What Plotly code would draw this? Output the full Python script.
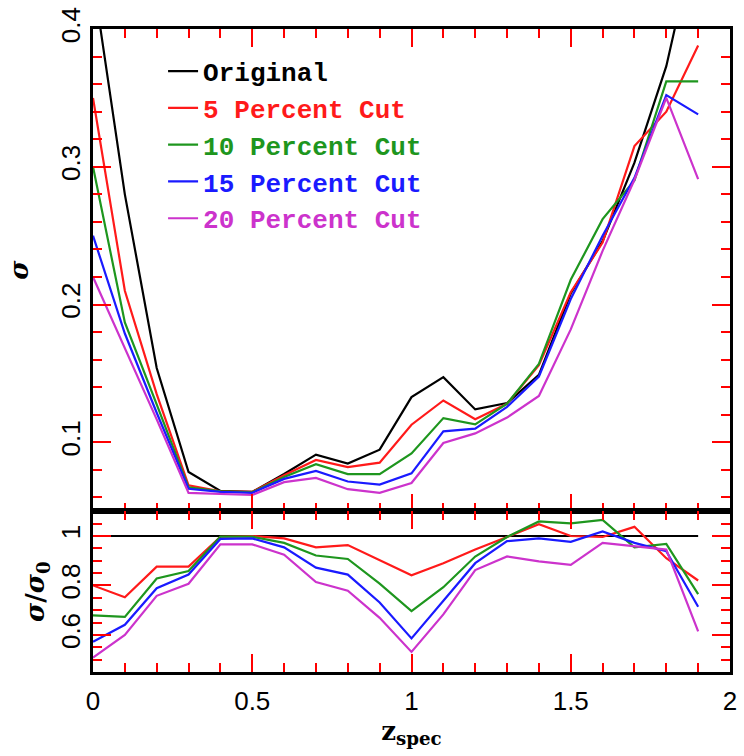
import plotly.graph_objects as go

# Redshift bins
z_spec = [0.0, 0.1, 0.2, 0.3, 0.4, 0.5, 0.6, 0.7, 0.8, 0.9,
          1.0, 1.1, 1.2, 1.3, 1.4, 1.5, 1.6, 1.7, 1.8, 1.9]

# Scatter sigma per bin for each sample
sigma_original = [0.437, 0.280, 0.154, 0.0785, 0.0648, 0.064, 0.077, 0.0911, 0.0846, 0.0947,
                  0.1328, 0.1473, 0.1239, 0.1285, 0.149, 0.208, 0.246, 0.303, 0.373, 0.475]
sigma_cut5 = [0.350, 0.210, 0.135, 0.0688, 0.0645, 0.064, 0.0762, 0.0872, 0.0820, 0.0853,
              0.1128, 0.1304, 0.1168, 0.128, 0.156, 0.209, 0.245, 0.315, 0.340, 0.388]
sigma_cut10 = [0.300, 0.187, 0.1275, 0.0673, 0.0645, 0.0638, 0.0748, 0.0842, 0.0770, 0.0770,
               0.0920, 0.1176, 0.1130, 0.128, 0.157, 0.218, 0.262, 0.290, 0.362, 0.362]
sigma_cut15 = [0.250, 0.179, 0.1215, 0.0663, 0.064, 0.0634, 0.0735, 0.0793, 0.0716, 0.0694,
               0.0775, 0.1080, 0.1100, 0.1258, 0.1478, 0.204, 0.250, 0.292, 0.352, 0.338]
sigma_cut20 = [0.220, 0.168, 0.1167, 0.0633, 0.0625, 0.0618, 0.0711, 0.0742, 0.0660, 0.0634,
               0.0705, 0.0995, 0.1065, 0.118, 0.1337, 0.182, 0.239, 0.2906, 0.350, 0.291]

# Ratio sigma / sigma_0 per bin
ratio_original = [1.0] * 20
ratio_cut5 = [0.80, 0.752, 0.876, 0.876, 0.997, 1.0, 0.99, 0.954, 0.963, 0.903,
              0.841, 0.89, 0.945, 0.996, 1.048, 1.0, 0.996, 1.037, 0.91, 0.82]
ratio_cut10 = [0.679, 0.673, 0.828, 0.858, 0.997, 0.997, 0.972, 0.921, 0.907, 0.807,
               0.696, 0.793, 0.917, 0.996, 1.059, 1.051, 1.065, 0.954, 0.968, 0.765]
ratio_cut15 = [0.572, 0.641, 0.789, 0.844, 0.988, 0.99, 0.954, 0.872, 0.844, 0.731,
               0.586, 0.738, 0.89, 0.979, 0.99, 0.976, 1.018, 0.972, 0.938, 0.714]
ratio_cut20 = [0.508, 0.60, 0.758, 0.807, 0.966, 0.966, 0.924, 0.814, 0.779, 0.669,
               0.531, 0.683, 0.862, 0.917, 0.897, 0.883, 0.972, 0.959, 0.945, 0.614]

labels = ["Original", "5 Percent Cut", "10 Percent Cut", "15 Percent Cut", "20 Percent Cut"]
colors = ["#000000", "#ff1a1a", "#1e961e", "#1a1aff", "#cc33cc"]
sigmas = [sigma_original, sigma_cut5, sigma_cut10, sigma_cut15, sigma_cut20]
ratios = [ratio_original, ratio_cut5, ratio_cut10, ratio_cut15, ratio_cut20]

# Axis ranges
z_range = [0.0, 2.0]
sigma_range = [0.05, 0.4]
ratio_range = [0.45, 1.1]

TICK_COLOR = "red"

fig = go.Figure()

for name, col, s in zip(labels, colors, sigmas):
    fig.add_trace(go.Scatter(
        x=z_spec, y=s, mode="lines", xaxis="x", yaxis="y",
        line=dict(color=col, width=2.2),
        name=f"<span style='color:{col}'>{name}</span>",
        showlegend=True,
    ))

for name, col, r in zip(labels, colors, ratios):
    fig.add_trace(go.Scatter(
        x=z_spec, y=r, mode="lines", xaxis="x2", yaxis="y2",
        line=dict(color=col, width=2.2),
        showlegend=False,
    ))

tick_font = dict(family="Liberation Sans", size=26, color="black")
title_font = dict(family="DejaVu Serif", size=26, color="black", weight="bold")


def frame(minor_dtick):
    return dict(
        showline=True, linecolor="black", linewidth=2.5, mirror="ticks",
        ticks="inside", ticklen=18, tickwidth=2, tickcolor=TICK_COLOR,
        showgrid=False, zeroline=False, tickfont=tick_font,
        minor=dict(dtick=minor_dtick, ticklen=9, tickwidth=2,
                   ticks="inside", tickcolor=TICK_COLOR),
    )


fig.update_layout(
    width=744, height=756,
    margin=dict(l=93, r=7, t=28, b=84),
    paper_bgcolor="white", plot_bgcolor="white",
    xaxis=dict(frame(0.1), domain=[0, 1], range=z_range, anchor="y",
               dtick=0.5, tick0=0, showticklabels=False),
    yaxis=dict(frame(0.02), domain=[0.25, 1], range=sigma_range, anchor="x",
               dtick=0.1, tick0=0, tickangle=-90,
               title=dict(text="<i>σ</i>", font=title_font, standoff=20)),
    xaxis2=dict(frame(0.1), domain=[0, 1], range=z_range, anchor="y2",
                dtick=0.5, tick0=0, ticklabelstandoff=4,
                title=dict(text="z<sub>spec</sub>", font=title_font, standoff=0)),
    yaxis2=dict(frame(0.05), domain=[0, 0.25], range=ratio_range, anchor="x2",
                dtick=0.2, tick0=0, tickangle=-90,
                title=dict(text="<i>σ</i>/<i>σ</i><sub>0</sub>", font=title_font, standoff=4)),
    legend=dict(
        x=0.11, y=0.971, xanchor="left", yanchor="top",
        bgcolor="rgba(0,0,0,0)", borderwidth=0,
        font=dict(family="Liberation Mono", size=26, color="black", weight="bold"),
        itemwidth=30, tracegroupgap=0,
    ),
)

fig.write_html("out.html")
